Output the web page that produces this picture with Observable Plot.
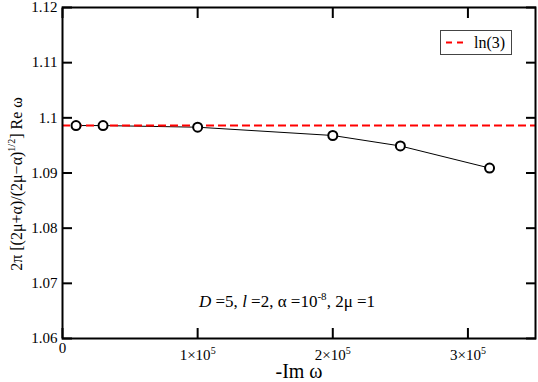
<!DOCTYPE html>
<html><head><meta charset="utf-8">
<script src="https://cdn.jsdelivr.net/npm/d3@7"></script>
<script src="https://cdn.jsdelivr.net/npm/@observablehq/plot@0.6"></script>
<style>
body{margin:0;background:#fff;}
svg, svg text, svg tspan{font-family:"Liberation Serif","Times New Roman",serif !important;}
</style>
</head><body><div id="chart"></div>
<script>
// Data
const imOmega = [1e4, 3e4, 1e5, 2e5, 2.5e5, 3.16e5];
const reOmegaScaled = [1.0986, 1.0986, 1.0983, 1.0968, 1.0949, 1.0909];
const refLine = [Math.log(3)];
const legendLabels = ["ln(3)"];
const xTicks = [0, 1e5, 2e5, 3e5];
const xTickLabels = ["0", "1×10^5", "2×10^5", "3×10^5"];
const yTicks = [1.06, 1.07, 1.08, 1.09, 1.10, 1.11, 1.12];
const yTickLabels = ["1.06", "1.07", "1.08", "1.09", "1.1", "1.11", "1.12"];
const xTitle = "-Im ω";

const data = imOmega.map((x, i) => ({x, y: reOmegaScaled[i]}));

const svg = Plot.plot({
  width: 538, height: 382,
  marginLeft: 62, marginRight: 3, marginTop: 7, marginBottom: 44,
  style: 'font-family: "Liberation Serif","Times New Roman",serif; background: white; color: black;',
  x: {domain: [0, 350000]},
  y: {domain: [1.06, 1.12]},
  marks: [
    Plot.axisY({anchor: "left", ticks: yTicks, tickSize: -10, tickPadding: 15, strokeWidth: 2, fontSize: 15,
      tickFormat: d => yTickLabels[yTicks.findIndex(t => Math.abs(t - d) < 1e-9)], label: null}),
    Plot.axisY({anchor: "right", ticks: yTicks, tickSize: -10, strokeWidth: 2, tickFormat: () => "", label: null}),
    Plot.axisX({anchor: "bottom", ticks: xTicks, tickSize: -10, tickPadding: 14, strokeWidth: 2, fontSize: 15,
      tickFormat: d => xTickLabels[xTicks.indexOf(d)], label: null}),
    Plot.axisX({anchor: "top", ticks: xTicks, tickSize: -10, strokeWidth: 2, tickFormat: () => "", label: null}),
    Plot.line(data, {x: "x", y: "y", stroke: "black", strokeWidth: 1}),
    Plot.ruleY(refLine, {stroke: "#ff0000", strokeWidth: 2, strokeDasharray: "8,4"}),
    Plot.dot(data, {x: "x", y: "y", r: 4.5, stroke: "black", strokeWidth: 2, fill: "white"}),
    Plot.frame({stroke: "black", strokeWidth: 2})
  ]
});
document.getElementById("chart").appendChild(svg);

const s = d3.select(svg);
// superscripts in x tick labels (label block top-aligned with plain labels)
s.selectAll('[aria-label="x-axis tick label"] text').each(function() {
  const t = this.textContent;
  if (t.includes("^")) {
    const [base, exp] = t.split("^");
    const el = d3.select(this);
    el.text(null);
    el.append("tspan").attr("dy", "7").text(base);
    el.append("tspan").attr("font-size", 10).attr("dy", "-6").text(exp);
  }
});

// x title
s.append("text").attr("x", 299).attr("y", 378).attr("text-anchor", "middle")
  .attr("font-size", 20).attr("fill", "black").text(xTitle);

// y title
const yt = s.append("text").attr("transform", "translate(22,184) rotate(-90)")
  .attr("text-anchor", "middle").attr("font-size", 16).attr("fill", "black");
yt.append("tspan").text("2π [(2μ+α)/(2μ−α)");
yt.append("tspan").attr("font-size", 10).attr("dy", "-7").text("1/2");
yt.append("tspan").attr("dy", "7").text("] Re ω");

// annotation
const an = s.append("text").attr("x", 199).attr("y", 307).attr("font-size", 17)
  .attr("text-anchor", "start").attr("fill", "black");
an.append("tspan").attr("font-style", "italic").text("D");
an.append("tspan").text(" =5, ");
an.append("tspan").attr("font-style", "italic").text("l");
an.append("tspan").text(" =2, α =10");
an.append("tspan").attr("font-size", 11).attr("dy", "-7").text("-8");
an.append("tspan").attr("dy", "7").text(", 2μ =1");

// legend
const lg = s.append("g");
lg.append("rect").attr("x", 440.5).attr("y", 30.5).attr("width", 71).attr("height", 24)
  .attr("fill", "white").attr("stroke", "#444").attr("stroke-width", 1);
lg.append("line").attr("x1", 446).attr("x2", 463).attr("y1", 42.5).attr("y2", 42.5)
  .attr("stroke", "#ff0000").attr("stroke-width", 2).attr("stroke-dasharray", "6,5");
lg.append("text").attr("x", 474).attr("y", 47.5).attr("font-size", 16)
  .attr("text-anchor", "start").attr("fill", "black").text(legendLabels[0]);
</script>
</body></html>
